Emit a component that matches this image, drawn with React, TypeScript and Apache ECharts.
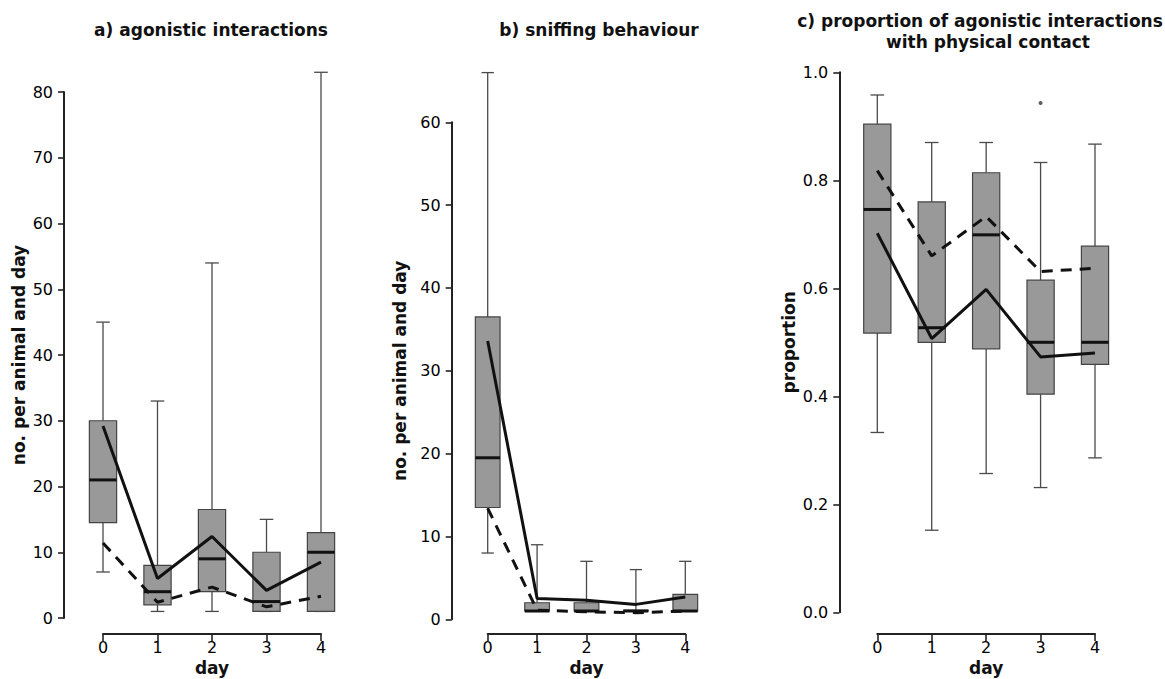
import React, { useEffect, useRef } from "react";
import * as echarts from "echarts";

const days = [0, 1, 2, 3, 4];

// a) agonistic interactions
const aLow = [7, 1, 1, 1, 1];
const aQ1 = [14.5, 2, 4, 1, 1];
const aMed = [21, 4, 9, 2.5, 10];
const aQ3 = [30, 8, 16.5, 10, 13];
const aHigh = [45, 33, 54, 15, 83];
const aSolid = [29.2, 6, 12.4, 4.2, 8.5];
const aDashed = [11.4, 2.4, 4.7, 1.7, 3.3];

// b) sniffing behaviour
const bLow = [8, 1, 1, 1, 1];
const bQ1 = [13.5, 1, 1, 1, 1];
const bMed = [19.5, 1, 1, 1, 1];
const bQ3 = [36.5, 2, 2, 1.1, 3];
const bHigh = [66, 9, 7, 6, 7];
const bSolid = [33.6, 2.5, 2.3, 1.8, 2.7];
const bDashed = [13.4, 1.1, 0.9, 0.8, 1.0];

// c) proportion with physical contact
const cLow = [0.333, 0.152, 0.257, 0.231, 0.286];
const cQ1 = [0.517, 0.5, 0.488, 0.404, 0.459];
const cMed = [0.746, 0.527, 0.699, 0.5, 0.5];
const cQ3 = [0.904, 0.76, 0.814, 0.615, 0.678];
const cHigh = [0.958, 0.87, 0.87, 0.833, 0.867];
const cSolid = [0.702, 0.507, 0.598, 0.473, 0.48];
const cDashed = [0.818, 0.66, 0.733, 0.631, 0.637];
const cOutliers = [[3, 0.943]];

const titles = ["a) agonistic interactions", "b) sniffing behaviour"];
const titleC = ["c) proportion of agonistic interactions", "with physical contact"];
const yNames = ["no. per animal and day", "no. per animal and day", "proportion"];
const xName = "day";

const FONT = '"DejaVu Sans", "Liberation Sans", Arial, sans-serif';

export default function App() {
  const ref = useRef<HTMLDivElement>(null);

  useEffect(() => {
    if (!ref.current) return;
    const chart = echarts.init(ref.current, null, { renderer: "svg" });

    const boxData = (lo: number[], q1: number[], md: number[], q3: number[], hi: number[]) =>
      days.map((d, i) => [d, lo[i], q1[i], md[i], q3[i], hi[i]]);

    const renderBox = (params: any, api: any) => {
      const x = api.value(0);
      const pLo = api.coord([x, api.value(1)]);
      const pQ1 = api.coord([x, api.value(2)]);
      const pMd = api.coord([x, api.value(3)]);
      const pQ3 = api.coord([x, api.value(4)]);
      const pHi = api.coord([x, api.value(5)]);
      const w = api.size([0.5, 0])[0];
      const half = w / 2;
      const cx = pMd[0];
      const wStyle = { stroke: "#4a4a4a", lineWidth: 1.3 };
      return {
        type: "group",
        children: [
          { type: "line", shape: { x1: cx, y1: pQ3[1], x2: cx, y2: pHi[1] }, style: wStyle },
          { type: "line", shape: { x1: cx, y1: pQ1[1], x2: cx, y2: pLo[1] }, style: wStyle },
          { type: "line", shape: { x1: cx - half / 2, y1: pHi[1], x2: cx + half / 2, y2: pHi[1] }, style: wStyle },
          { type: "line", shape: { x1: cx - half / 2, y1: pLo[1], x2: cx + half / 2, y2: pLo[1] }, style: wStyle },
          {
            type: "rect",
            shape: { x: cx - half, y: pQ3[1], width: w, height: pQ1[1] - pQ3[1] },
            style: { fill: "#999999", stroke: "#444", lineWidth: 1.2 },
          },
          { type: "line", shape: { x1: cx - half, y1: pMd[1], x2: cx + half, y2: pMd[1] }, style: { stroke: "#111", lineWidth: 3 } },
        ],
      };
    };

    const grids = [
      { left: 103, top: 92, width: 218, height: 526 },
      { left: 487.7, top: 122.3, width: 197.6, height: 497 },
      { left: 877.3, top: 72.3, width: 217.7, height: 540 },
    ];
    const yCfg = [
      { max: 80, interval: 10, offset: 39, nameGap: 37, dec: 0 },
      { max: 60, interval: 10, offset: 36, nameGap: 43, dec: 0 },
      { max: 1, interval: 0.2, offset: 38, nameGap: 42, dec: 1 },
    ];
    const xOffsets = [16, 14.7, 21.7];

    const axisLine = { show: true, onZero: false, lineStyle: { color: "#222", width: 2 } };

    const xAxis = grids.map((_, i) => ({
      type: "value",
      gridIndex: i,
      min: 0,
      max: 4,
      interval: 1,
      offset: xOffsets[i],
      axisLine,
      axisTick: { show: true, length: 7, lineStyle: { color: "#222", width: 1.6 } },
      splitLine: { show: false },
      axisLabel: { show: true, color: "#000", fontSize: 16, fontFamily: FONT, margin: 5, showMinLabel: true, showMaxLabel: true },
      name: xName,
      nameLocation: "middle",
      nameGap: 25,
      nameTextStyle: { color: "#111", fontSize: 17, fontWeight: "bold", fontFamily: FONT },
    }));

    const yAxis = grids.map((_, i) => ({
      type: "value",
      gridIndex: i,
      min: 0,
      max: yCfg[i].max,
      interval: yCfg[i].interval,
      offset: yCfg[i].offset,
      axisLine,
      axisTick: { show: true, length: 6, lineStyle: { color: "#222", width: 1.6 } },
      splitLine: { show: false },
      axisLabel: {
        show: true,
        color: "#000",
        fontSize: 16,
        fontFamily: FONT,
        margin: 11,
        showMinLabel: true,
        showMaxLabel: true,
        formatter: (v: number) => v.toFixed(yCfg[i].dec),
      },
      name: yNames[i],
      nameLocation: "middle",
      nameGap: yCfg[i].nameGap,
      nameRotate: 90,
      nameTextStyle: { color: "#111", fontSize: 17, fontWeight: "bold", fontFamily: FONT },
    }));

    const panels = [
      { box: boxData(aLow, aQ1, aMed, aQ3, aHigh), solid: aSolid, dashed: aDashed },
      { box: boxData(bLow, bQ1, bMed, bQ3, bHigh), solid: bSolid, dashed: bDashed },
      { box: boxData(cLow, cQ1, cMed, cQ3, cHigh), solid: cSolid, dashed: cDashed },
    ];

    const series: any[] = [];
    panels.forEach((p, i) => {
      series.push({
        type: "custom",
        xAxisIndex: i,
        yAxisIndex: i,
        clip: false,
        renderItem: renderBox,
        encode: { x: 0, y: [1, 2, 3, 4, 5] },
        data: p.box,
        z: 2,
      });
      series.push({
        type: "line",
        xAxisIndex: i,
        yAxisIndex: i,
        clip: false,
        symbol: "none",
        data: days.map((d, k) => [d, p.dashed[k]]),
        lineStyle: { color: "#111", width: 3, type: [11, 8] },
        z: 3,
      });
      series.push({
        type: "line",
        xAxisIndex: i,
        yAxisIndex: i,
        clip: false,
        symbol: "none",
        data: days.map((d, k) => [d, p.solid[k]]),
        lineStyle: { color: "#111", width: 3 },
        z: 3,
      });
    });
    series.push({
      type: "scatter",
      xAxisIndex: 2,
      yAxisIndex: 2,
      symbol: "circle",
      symbolSize: 4,
      itemStyle: { color: "#333" },
      data: cOutliers,
      z: 3,
    });

    const tFont = `bold 17px ${FONT}`;
    const graphic = [
      { type: "text", x: 211, y: 30, style: { text: titles[0], font: tFont, fill: "#111", textAlign: "center", textVerticalAlign: "middle" } },
      { type: "text", x: 599, y: 30, style: { text: titles[1], font: tFont, fill: "#111", textAlign: "center", textVerticalAlign: "middle" } },
      { type: "text", x: 980, y: 21, style: { text: titleC[0], font: tFont, fill: "#111", textAlign: "center", textVerticalAlign: "middle" } },
      { type: "text", x: 988, y: 42, style: { text: titleC[1], font: tFont, fill: "#111", textAlign: "center", textVerticalAlign: "middle" } },
    ];

    chart.setOption({
      animation: false,
      backgroundColor: "#ffffff",
      grid: grids.map((g) => ({ ...g, containLabel: false, outerBoundsMode: "none" })),
      xAxis,
      yAxis,
      series,
      graphic,
    });

    return () => chart.dispose();
  }, []);

  return (
    <div
      ref={ref}
      style={{ position: "fixed", left: 0, top: 0, width: 1165, height: 679, background: "#fff" }}
    />
  );
}
